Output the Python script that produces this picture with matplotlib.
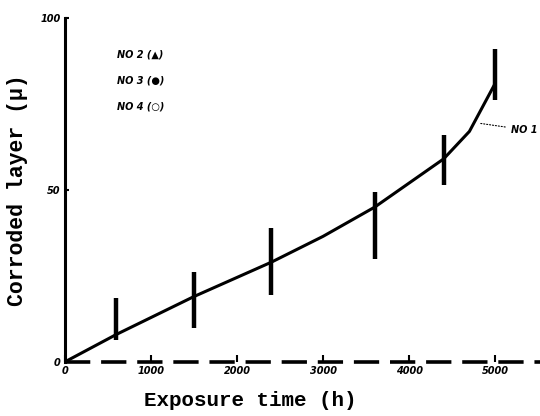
import matplotlib
matplotlib.use("Agg")
import matplotlib.pyplot as plt

# Data
bar_hours = [600, 1500, 2400, 3600, 4400, 5000]
bar_low = [6.5, 10, 19.5, 30, 51.5, 76]
bar_high = [18.5, 26, 39, 49.5, 66, 91]

curve_hours = [0, 600, 1500, 2400, 3000, 3600, 4400, 4700, 5000]
curve_depth = [0, 8, 19, 29, 36.5, 45, 59, 67, 81]

x_ticks = [0, 1000, 2000, 3000, 4000, 5000]
x_ticklabels = ["0", "1000", "2000", "3000", "4000", "5000"]
y_ticks = [0, 50, 100]
y_ticklabels = ["0", "50", "100"]

legend_lines = ["NO 2 (▲)", "NO 3 (●)", "NO 4 (○)"]
curve_label = "NO 1"

fig = plt.figure(figsize=(5.4, 4.16), dpi=100)
ax = fig.add_axes([0.12, 0.13, 0.88, 0.827])
ax.set_xlim(0, 5520)
ax.set_ylim(0, 100)

ax.plot(curve_hours, curve_depth, color="black", lw=2.2, solid_capstyle="round", zorder=3)
ax.vlines(bar_hours, bar_low, bar_high, color="black", lw=3.2, zorder=4)

for s in ["top", "right"]:
    ax.spines[s].set_visible(False)
ax.spines["left"].set_linewidth(2.2)
ax.spines["bottom"].set_visible(False)
ax.axhline(0, color="black", lw=2.6, linestyle=(0, (7, 3)), clip_on=False, zorder=2)

ax.set_xticks(x_ticks)
ax.set_xticklabels(x_ticklabels, fontsize=7, fontweight="bold", fontstyle="italic")
ax.set_yticks(y_ticks)
ax.set_yticklabels(y_ticklabels, fontsize=7, fontweight="bold", fontstyle="italic")
ax.tick_params(axis="x", direction="in", length=5, width=1.5, pad=3)
ax.tick_params(axis="y", direction="in", length=3, width=1.5, pad=3)

ax.set_xlabel("Exposure time (h)", family="Liberation Mono", fontsize=15, fontweight="bold")
ax.xaxis.set_label_coords(0.39, -0.085)
ax.set_ylabel("Corroded layer (µ)", family="Liberation Mono", fontsize=15.5, fontweight="bold")
ax.yaxis.set_label_coords(-0.078, 0.5)

for i, t in enumerate(legend_lines):
    ax.text(0.11, 0.885 - i * 0.075, t, transform=ax.transAxes, fontsize=7,
            fontweight="bold", fontstyle="italic")

ax.annotate(curve_label, xy=(4780, 69.5), xytext=(5180, 67.5), fontsize=7,
            fontweight="bold", fontstyle="italic", va="center",
            arrowprops=dict(arrowstyle="-", linestyle=":", lw=0.8, color="black"))

fig.savefig("out.png", dpi=100)
